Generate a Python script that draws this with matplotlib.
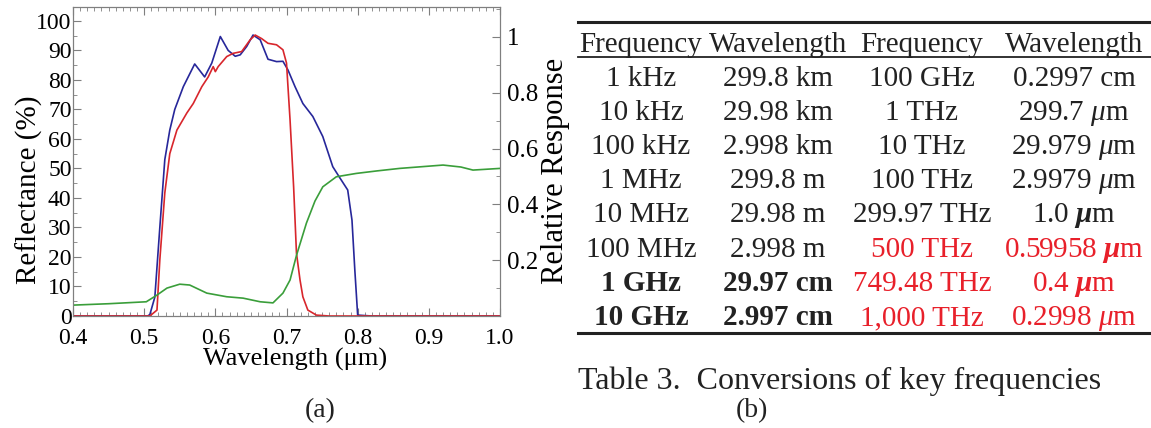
import numpy as np
import matplotlib
matplotlib.use('Agg')
import matplotlib.pyplot as plt
from matplotlib.ticker import MultipleLocator, FixedLocator
from matplotlib.lines import Line2D

plt.rcParams['font.family'] = ['Liberation Serif', 'DejaVu Serif']
plt.rcParams['mathtext.fontset'] = 'custom'
plt.rcParams['mathtext.rm'] = 'Liberation Serif'
plt.rcParams['mathtext.it'] = 'Liberation Serif:italic'
plt.rcParams['mathtext.bf'] = 'Liberation Serif:italic:bold'

# ---- (a) spectra ----
wl_blue = [0.40, 0.505, 0.508, 0.515, 0.522, 0.529, 0.536, 0.543, 0.555, 0.571,
           0.585, 0.595, 0.607, 0.618, 0.628, 0.635, 0.644, 0.653, 0.663, 0.674,
           0.686, 0.695, 0.702, 0.712, 0.723, 0.737, 0.751, 0.765, 0.775, 0.786,
           0.792, 0.796, 0.800, 0.82, 1.00]
refl_blue = [0.0, 0.0, 0.5, 6.4, 30.0, 53.0, 63.0, 70.0, 77.7, 85.4,
             81.0, 85.7, 94.7, 90.0, 88.0, 88.5, 91.3, 95.2, 93.6, 87.0,
             86.2, 86.3, 83.4, 77.7, 72.0, 67.6, 60.8, 50.6, 46.8, 42.7,
             32.5, 15.6, 0.3, 0.0, 0.0]

wl_red = [0.40, 0.508, 0.518, 0.522, 0.529, 0.536, 0.546, 0.560, 0.569, 0.581,
          0.590, 0.597, 0.600, 0.604, 0.616, 0.625, 0.637, 0.649, 0.656, 0.665,
          0.674, 0.686, 0.695, 0.700, 0.705, 0.710, 0.714, 0.719, 0.723, 0.730,
          0.742, 0.76, 1.00]
refl_red = [0.0, 0.0, 2.0, 19.0, 41.7, 55.0, 63.0, 68.8, 72.0, 77.7,
            81.0, 84.5, 82.8, 84.5, 87.9, 89.0, 89.6, 93.6, 95.2, 94.0,
            92.4, 91.9, 90.2, 85.7, 66.4, 43.8, 21.3, 12.2, 6.5, 2.0,
            0.3, 0.0, 0.0]

wl_green = [0.40, 0.45, 0.503, 0.518, 0.532, 0.550, 0.564, 0.588, 0.616, 0.639,
            0.663, 0.681, 0.695, 0.705, 0.714, 0.728, 0.740, 0.751, 0.770, 0.798,
            0.827, 0.859, 0.920, 0.945, 0.962, 1.00]
resp_green = [0.039, 0.044, 0.051, 0.075, 0.100, 0.114, 0.111, 0.082, 0.069, 0.064,
              0.051, 0.047, 0.082, 0.129, 0.217, 0.333, 0.412, 0.463, 0.499, 0.511,
              0.520, 0.529, 0.541, 0.534, 0.523, 0.529]

x_ticks = [0.4, 0.5, 0.6, 0.7, 0.8, 0.9, 1.0]
x_tick_labels = ['0.4', '0.5', '0.6', '0.7', '0.8', '0.9', '1.0']
r_ticks = [0.2, 0.4, 0.6, 0.8, 1.0]
r_tick_labels = ['0.2', '0.4', '0.6', '0.8', '1']

# ---- (b) table ----
header = ['Frequency', 'Wavelength', 'Frequency', 'Wavelength']
freq_lo = ['1 kHz', '10 kHz', '100 kHz', '1 MHz', '10 MHz', '100 MHz', '1 GHz', '10 GHz']
wave_lo = ['299.8 km', '29.98 km', '2.998 km', '299.8 m', '29.98 m', '2.998 m',
           '29.97 cm', '2.997 cm']
freq_hi = ['100 GHz', '1 THz', '10 THz', '100 THz', '299.97 THz', '500 THz',
           '749.48 THz', '1,000 THz']
wave_hi = ['0.2997 cm', r'299.7 $\mu$m', r'29.979 $\mu$m', r'2.9979 $\mu$m',
           r'1.0 $\mathbf{\mu}$m', r'0.59958 $\mathbf{\mu}$m', r'0.4 $\mathbf{\mu}$m',
           r'0.2998 $\mu$m']
bold_lo = [False] * 6 + [True, True]
red_hi = [False] * 5 + [True, True, True]

W, H = 1151, 428
fig = plt.figure(figsize=(W / 100, H / 100), dpi=100)

grey = '#7f7f7f'
ax = fig.add_axes([73 / W, 1 - 316 / H, 427 / W, 309 / H])
ax.plot(wl_blue, refl_blue, color='#27279a', lw=1.2)
ax.plot(wl_red, refl_red, color='#d8262c', lw=1.2)
ax.set_xlim(0.4, 1.0)
ax.set_ylim(0, 104.7)
ax.xaxis.set_major_locator(FixedLocator(x_ticks))
ax.set_xticklabels(x_tick_labels)
ax.xaxis.set_minor_locator(MultipleLocator(0.01))
ax.yaxis.set_major_locator(MultipleLocator(10))
ax.yaxis.set_minor_locator(MultipleLocator(5))
ax.tick_params(which='both', direction='in', color=grey, labelsize=17,
               top=True, right=False)
ax.tick_params(which='major', length=6)
ax.tick_params(which='minor', length=3)
ax.tick_params(axis='y', pad=1)
ax.tick_params(axis='x', pad=9, labelsize=17)
for s in ax.spines.values():
    s.set_color(grey)
ax.set_xlabel('Wavelength (\u03bcm)', fontsize=19)
ax.xaxis.set_label_coords(0.52, -0.104)
ax.set_ylabel('Reflectance (%)', fontsize=21)
ax.yaxis.set_label_coords(-0.07, 0.41)

axr = ax.twinx()
axr.plot(wl_green, resp_green, color='#3a9e3a', lw=1.2)
axr.set_ylim(0, 1.1075)
axr.yaxis.set_major_locator(FixedLocator(r_ticks))
axr.set_yticklabels(r_tick_labels)
axr.yaxis.set_minor_locator(MultipleLocator(0.1))
axr.tick_params(which='both', direction='in', color=grey, labelsize=18, pad=5)
axr.tick_params(which='major', length=6)
axr.tick_params(which='minor', length=3)
for s in axr.spines.values():
    s.set_color(grey)
axr.set_ylabel('Relative Response', fontsize=22)
axr.yaxis.set_label_coords(1.095, 0.47)

# table drawn in pixel coordinates of an overlay axes
tb = fig.add_axes([0, 0, 1, 1])
tb.set_xlim(0, W)
tb.set_ylim(H, 0)
tb.axis('off')

col_x = [641, 778, 922, 1074]
header_y = 52
row_y = [86, 120, 154, 188, 222, 257, 291, 325]
fs = 21
red = '#e8202a'
ink = '#222222'

tb.add_line(Line2D([578, 1151], [22, 22], color=ink, lw=2.2))
tb.add_line(Line2D([578, 1151], [57, 57], color=ink, lw=1.3))
tb.add_line(Line2D([578, 1151], [333, 333], color=ink, lw=2.2))

for cx, h in zip(col_x, header):
    tb.text(cx, header_y, h, ha='center', va='baseline', fontsize=fs, color=ink)

for i, y in enumerate(row_y):
    w = 'bold' if bold_lo[i] else 'normal'
    tb.text(col_x[0], y, freq_lo[i], ha='center', va='baseline', fontsize=fs,
            fontweight=w, color=ink)
    tb.text(col_x[1], y, wave_lo[i], ha='center', va='baseline', fontsize=fs,
            fontweight=w, color=ink)
    c = red if red_hi[i] else ink
    tb.text(col_x[2], y, freq_hi[i], ha='center', va='baseline', fontsize=fs, color=c)
    tb.text(col_x[3], y, wave_hi[i], ha='center', va='baseline', fontsize=fs, color=c)

tb.text(578, 389, 'Table 3.  Conversions of key frequencies', ha='left',
        va='baseline', fontsize=23, color=ink)
tb.text(320, 417, '(a)', ha='center', va='baseline', fontsize=20, color=ink)
tb.text(752, 417, '(b)', ha='center', va='baseline', fontsize=20, color=ink)

fig.savefig('out.png', dpi=100)
